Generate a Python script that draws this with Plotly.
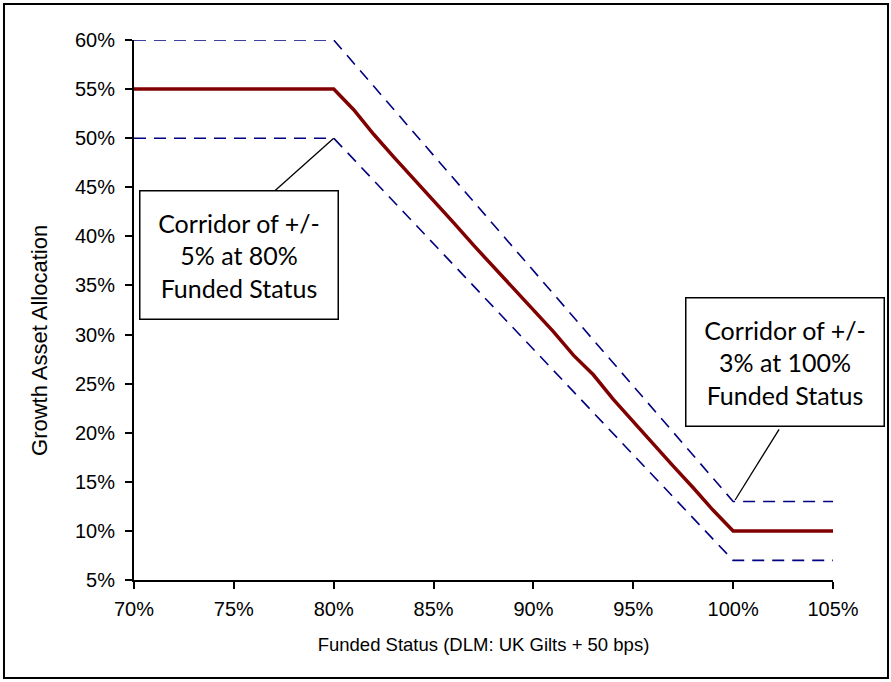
import plotly.graph_objects as go

# ---- data ----
funded = [70, 71, 72, 73, 74, 75, 76, 77, 78, 79, 80, 81, 82, 83, 84, 85, 86, 87, 88, 89, 90,
          91, 92, 93, 94, 95, 96, 97, 98, 99, 100, 101, 102, 103, 104, 105]
growth = [55, 55, 55, 55, 55, 55, 55, 55, 55, 55, 55, 52.9, 50.4, 48.1, 45.9, 43.7, 41.4, 39.1,
          36.9, 34.7, 32.5, 30.3, 27.9, 25.9, 23.4, 21.1, 18.9, 16.6, 14.4, 12.1, 10,
          10, 10, 10, 10, 10]
band_x = [70, 80, 100, 105]
upper = [60, 60, 13, 13]
lower = [50, 50, 7, 7]

x_ticks = [70, 75, 80, 85, 90, 95, 100, 105]
y_ticks = [5, 10, 15, 20, 25, 30, 35, 40, 45, 50, 55, 60]

notes = ["Corridor of +/-<br>5% at 80%<br>Funded Status",
         "Corridor of +/-<br>3% at 100%<br>Funded Status"]
note_pos = [(75.275, 37.9), (102.575, 27.05)]
leader_from = [(76.97, 44.5), (102.3, 20.35)]
leader_to = [(80, 50), (100.1, 13.15)]

x_title = "Funded Status (DLM: UK Gilts + 50 bps)"
y_title = "Growth Asset Allocation"

fig = go.Figure()
for yy in (upper, lower):
    fig.add_trace(go.Scatter(x=band_x, y=yy, mode="lines",
                             line=dict(color="#000080", width=1.6, dash="12px,8px"),
                             hoverinfo="skip", showlegend=False, cliponaxis=False))
fig.add_trace(go.Scatter(x=funded, y=growth, mode="lines",
                         line=dict(color="#800000", width=3.5),
                         showlegend=False, cliponaxis=False))

for (x0, y0), (x1, y1) in zip(leader_from, leader_to):
    fig.add_shape(type="line", x0=x0, y0=y0, x1=x1, y1=y1, xref="x", yref="y",
                  line=dict(color="black", width=1.3))

for txt, (ax_, ay_) in zip(notes, note_pos):
    fig.add_annotation(x=ax_, y=ay_, xref="x", yref="y", text=txt, showarrow=False,
                       font=dict(family="Lato", size=25, color="black"),
                       bgcolor="white", bordercolor="black", borderwidth=1.5,
                       borderpad=0, width=197, height=127, align="center", yshift=2)

# y-axis title (placed lower than plot centre, as in the original)
fig.add_annotation(x=-0.136, y=0.4444, xref="paper", yref="paper", text=y_title,
                   textangle=-90, showarrow=False, xanchor="center", yanchor="middle",
                   font=dict(family="Liberation Sans, Arial", size=22, color="black"))

# outer border
fig.add_shape(type="rect", xref="paper", yref="paper",
              x0=-0.186, x1=1.0787, y0=-0.1815, y1=1.0667,
              line=dict(color="black", width=2))

axis_font = dict(family="Liberation Sans, Arial", size=20, color="black")
fig.update_xaxes(range=[70, 105], tickvals=x_ticks, ticktext=[f"{v}%" for v in x_ticks],
                 showline=True, linecolor="black", linewidth=2, ticks="outside",
                 ticklen=7, tickwidth=1.5, tickcolor="black", showgrid=False,
                 zeroline=False, tickfont=axis_font, ticklabelstandoff=3,
                 title=dict(text=x_title,
                            font=dict(family="Liberation Sans, Arial", size=18.5, color="black"),
                            standoff=19))
fig.update_yaxes(range=[5, 60], tickvals=y_ticks, ticktext=[f"{v}%" for v in y_ticks],
                 showline=True, linecolor="black", linewidth=2, ticks="outside",
                 ticklen=7, tickwidth=1.5, tickcolor="black", showgrid=False,
                 zeroline=False, tickfont=axis_font, ticklabelstandoff=6)

fig.update_layout(width=891, height=682, autosize=False,
                  margin=dict(l=134, r=58, t=40, b=102, autoexpand=False),
                  plot_bgcolor="white", paper_bgcolor="white", showlegend=False)

fig.write_html("out.html", config={"displayModeBar": False},
               post_script="document.body.style.margin='0';document.body.style.overflow='hidden';")
